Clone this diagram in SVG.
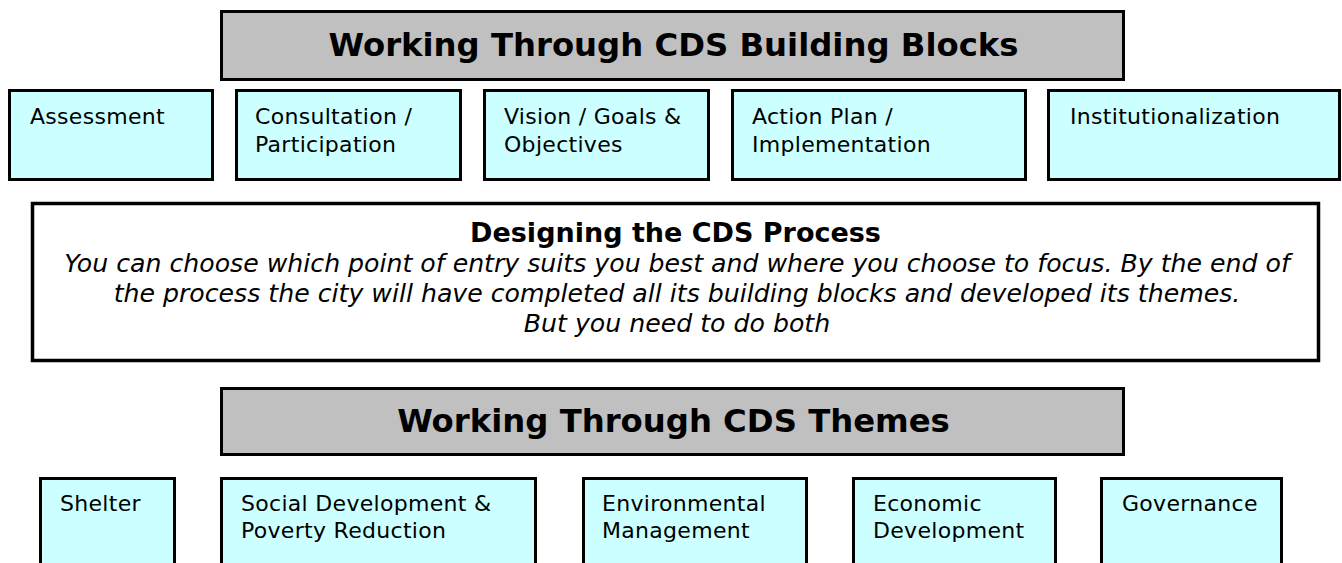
<svg xmlns="http://www.w3.org/2000/svg" width="1342" height="563" viewBox="0 0 1342 563">
  <style>
    .banner { fill: #c0c0c0; stroke: #000; stroke-width: 3; }
    .block { fill: #ccffff; stroke: #000; stroke-width: 3; }
    .panel { fill: #fff; stroke: #000; stroke-width: 3.5; }
    .title { font-family: "DejaVu Sans", Verdana, sans-serif; font-weight: bold; font-size: 32.3px; fill: #000; text-anchor: middle; }
    .label { font-family: "DejaVu Sans", Verdana, sans-serif; font-size: 22px; letter-spacing: 0.3px; fill: #000; }
    .head { font-family: "DejaVu Sans", Verdana, sans-serif; font-weight: bold; font-size: 27px; fill: #000; text-anchor: middle; }
    .note { font-family: "DejaVu Sans", Verdana, sans-serif; font-style: italic; font-size: 25.2px; fill: #000; text-anchor: middle; }
  </style>
  <rect width="1342" height="563" fill="#fff"/>

  <!-- building blocks -->
  <g id="blocks-banner">
    <rect class="banner" x="221.5" y="11.5" width="902" height="68"/>
    <text class="title" x="673.5" y="56">Working Through CDS Building Blocks</text>
  </g>
  <g id="block-assessment">
    <rect class="block" x="9.5" y="90.5" width="203" height="89"/>
    <text class="label" x="30" y="124">Assessment</text>
  </g>
  <g id="block-consultation">
    <rect class="block" x="236.5" y="90.5" width="224" height="89"/>
    <text class="label" x="255" y="124">Consultation /</text>
    <text class="label" x="255" y="152">Participation</text>
  </g>
  <g id="block-vision">
    <rect class="block" x="484.5" y="90.5" width="224" height="89"/>
    <text class="label" x="504" y="124">Vision / Goals &amp;</text>
    <text class="label" x="504" y="152">Objectives</text>
  </g>
  <g id="block-action">
    <rect class="block" x="732.5" y="90.5" width="293" height="89"/>
    <text class="label" x="752" y="124">Action Plan /</text>
    <text class="label" x="752" y="152">Implementation</text>
  </g>
  <g id="block-institutionalization">
    <rect class="block" x="1048.5" y="90.5" width="291" height="89"/>
    <text class="label" x="1070" y="124">Institutionalization</text>
  </g>

  <!-- process design panel -->
  <g id="process-panel">
    <rect class="panel" x="32.5" y="203.5" width="1286" height="157"/>
    <text class="head" x="675.5" y="242">Designing the CDS Process</text>
    <text class="note" x="677" y="272">You can choose which point of entry suits you best and where you choose to focus. By the end of</text>
    <text class="note" x="677" y="302">the process the city will have completed all its building blocks and developed its themes.</text>
    <text class="note" x="677" y="332">But you need to do both</text>
  </g>

  <!-- themes -->
  <g id="themes-banner">
    <rect class="banner" x="221.5" y="388.5" width="902" height="66"/>
    <text class="title" x="673.5" y="432">Working Through CDS Themes</text>
  </g>
  <g id="theme-shelter">
    <rect class="block" x="40.5" y="478.5" width="134" height="100"/>
    <text class="label" x="60" y="511">Shelter</text>
  </g>
  <g id="theme-social">
    <rect class="block" x="221.5" y="478.5" width="314" height="100"/>
    <text class="label" x="241" y="511">Social Development &amp;</text>
    <text class="label" x="241" y="538">Poverty Reduction</text>
  </g>
  <g id="theme-environment">
    <rect class="block" x="583.5" y="478.5" width="223" height="100"/>
    <text class="label" x="602" y="511">Environmental</text>
    <text class="label" x="602" y="538">Management</text>
  </g>
  <g id="theme-economic">
    <rect class="block" x="853.5" y="478.5" width="202" height="100"/>
    <text class="label" x="873" y="511">Economic</text>
    <text class="label" x="873" y="538">Development</text>
  </g>
  <g id="theme-governance">
    <rect class="block" x="1101.5" y="478.5" width="180" height="100"/>
    <text class="label" x="1122" y="511">Governance</text>
  </g>

  <g id="connectors"/>
</svg>
